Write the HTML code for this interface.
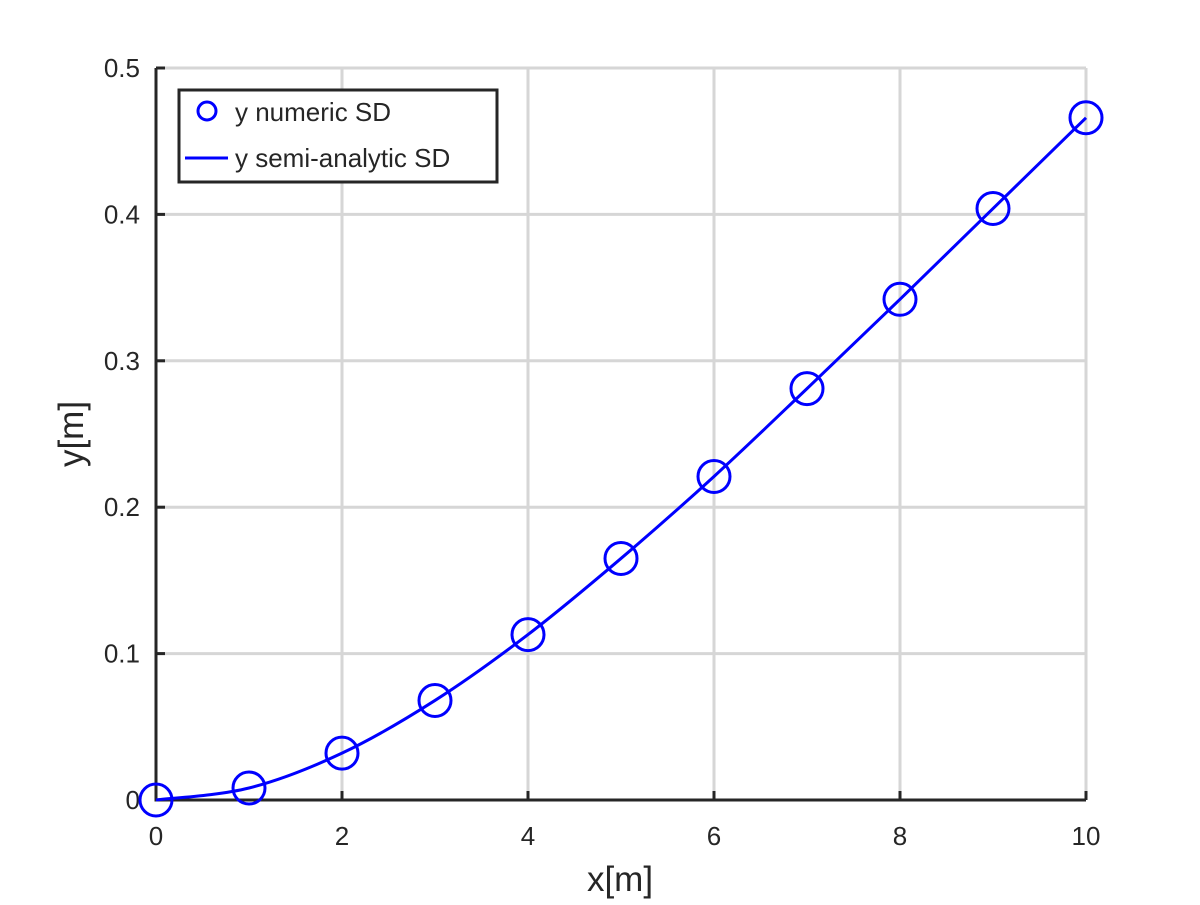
<!DOCTYPE html>
<html><head><meta charset="utf-8"><style>
body{margin:0;background:#fff}
svg text{font-family:"Liberation Sans",sans-serif;fill:#262626}
</style></head><body>
<svg width="1200" height="900" viewBox="0 0 1200 900">
<rect width="1200" height="900" fill="#fff"/>
<g id="grid"></g>
<g id="axes"></g>
<g id="series"></g>
<text x="620" y="891" font-size="35" text-anchor="middle">x[m]</text>
<text transform="translate(83,434) rotate(-90)" font-size="35" text-anchor="middle">y[m]</text>
<g>
<rect x="179" y="90" width="318" height="92" fill="#fff" stroke="#262626" stroke-width="3"/>
<circle cx="207" cy="111" r="9" fill="none" stroke="#0000ff" stroke-width="3"/>
<text x="235" y="121" font-size="26" fill="#000">y numeric SD</text>
<line x1="185" y1="158" x2="228" y2="158" stroke="#0000ff" stroke-width="3"/>
<text x="235" y="167" font-size="26" fill="#000">y semi-analytic SD</text>
</g>
</svg>
<script>
const xValues=[0,1,2,3,4,5,6,7,8,9,10];
const yNumeric=[0,0.0082,0.032,0.068,0.113,0.165,0.221,0.281,0.342,0.404,0.466];
const yAnalytic=[0,0.0082,0.032,0.068,0.113,0.165,0.221,0.281,0.342,0.404,0.466];
const xTicks=[0,2,4,6,8,10];
const yTicks=[0,0.1,0.2,0.3,0.4,0.5];
const yTickLabels=["0","0.1","0.2","0.3","0.4","0.5"];
const NS="http://www.w3.org/2000/svg";
const X0=156,X1=1086,Y0=800,Y1=68;
const sx=v=>X0+(v-0)/(10-0)*(X1-X0);
const sy=v=>Y0-(v-0)/(0.5-0)*(Y0-Y1);
function mk(t,a,p){const e=document.createElementNS(NS,t);for(const k in a)e.setAttribute(k,a[k]);p.appendChild(e);return e;}
const grid=document.getElementById('grid'),axes=document.getElementById('axes'),ser=document.getElementById('series');
xTicks.forEach(t=>{const l=mk('line',{x1:sx(t),x2:sx(t),y1:Y0,y2:Y1,stroke:'#d6d6d6','stroke-width':3},grid);


const k=mk('line',{x1:sx(t),x2:sx(t),y1:Y0,y2:Y0-9,stroke:'#262626','stroke-width':3},axes);


const tx=mk('text',{x:sx(t),y:Y0+45,'font-size':26,'text-anchor':'middle'},axes);tx.textContent=t;

});
yTicks.forEach((t,i)=>{const l=mk('line',{x1:X0,x2:X1,y1:sy(t),y2:sy(t),stroke:'#d6d6d6','stroke-width':3},grid);


const k=mk('line',{x1:X0,x2:X0+9,y1:sy(t),y2:sy(t),stroke:'#262626','stroke-width':3},axes);


const tx=mk('text',{x:X0-16,y:sy(t)+9,'font-size':26,'text-anchor':'end'},axes);tx.textContent=yTickLabels[i];

});
const ax=mk('path',{d:`M${X0},${Y1} L${X0},${Y0} L${X1},${Y0}`,fill:'none',stroke:'#262626','stroke-width':3},axes);


const P=xValues.map((x,i)=>[sx(x),sy(yAnalytic[i])]);
let d=`M${P[0][0]},${P[0][1]}`;
for(let i=0;i<P.length-1;i++){const p0=P[Math.max(0,i-1)],p1=P[i],p2=P[i+1],p3=P[Math.min(P.length-1,i+2)];
d+=` C${p1[0]+(p2[0]-p0[0])/6},${p1[1]+(p2[1]-p0[1])/6} ${p2[0]-(p3[0]-p1[0])/6},${p2[1]-(p3[1]-p1[1])/6} ${p2[0]},${p2[1]}`;}
const ln=mk('path',{d:d,fill:'none',stroke:'#0000ff','stroke-width':3},ser);


xValues.forEach((x,i)=>{const c=mk('circle',{cx:sx(x),cy:sy(yNumeric[i]),r:16,fill:'none',stroke:'#0000ff','stroke-width':3},ser);

});
</script>
</body></html>
